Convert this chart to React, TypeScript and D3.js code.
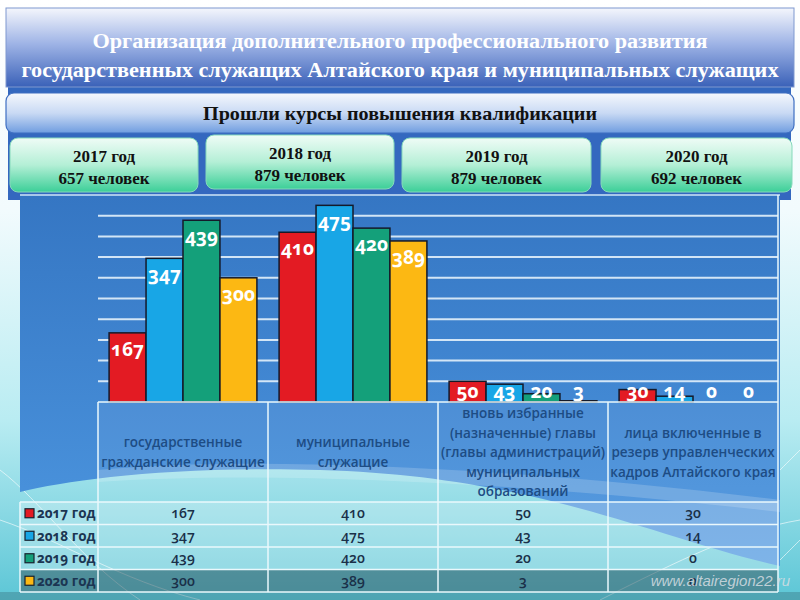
import * as d3 from "d3";

const titleLines = [
  "Организация дополнительного профессионального развития",
  "государственных служащих Алтайского края и муниципальных служащих",
];
const subtitle = "Прошли курсы повышения квалификации";

const years = ["2017 год", "2018 год", "2019 год", "2020 год"];
const yearTotals = [657, 879, 879, 692];

const categories = [
  ["государственные", "гражданские служащие"],
  ["муниципальные", "служащие"],
  ["вновь избранные", "(назначенные) главы", "(главы администраций)", "муниципальных", "образований"],
  ["лица включенные в", "резерв управленческих", "кадров Алтайского края"],
];

const values2017 = [167, 410, 50, 30];
const values2018 = [347, 475, 43, 14];
const values2019 = [439, 420, 20, 0];
const values2020 = [300, 389, 3, 0];
const seriesValues = [values2017, values2018, values2019, values2020];

const gridTicks = [50, 100, 150, 200, 250, 300, 350, 400, 450];
const barColors = ["#e31b23", "#18a6e6", "#14a07a", "#fcb813"];

const W = 800;
const H = 600;
const plotLeft = 98;
const plotRight = 778;
const baseY = 402;
const topY = 195;
const headerBottom = 502;
const rowEdges = [502, 524.5, 547, 569.5, 592];
const legendLeft = 20;

const labelFont = "'Open Sans', 'Noto Sans', sans-serif";
const serif = "'Liberation Serif', 'DejaVu Serif', serif";

export default function App() {
  const x = d3.scaleBand<number>()
    .domain(d3.range(categories.length))
    .range([plotLeft, plotRight])
    .padding(0);

  const xInner = d3.scaleBand<number>()
    .domain(d3.range(years.length))
    .range([0, x.bandwidth()])
    .paddingInner(0)
    .paddingOuter(0.3);

  const y = d3.scaleLinear().domain([0, 500]).range([baseY, topY]);

  const yearBoxes = [
    { x0: 10, x1: 198, dy: 0 },
    { x0: 206, x1: 394, dy: -3 },
    { x0: 402, x1: 591, dy: 0 },
    { x0: 601, x1: 792, dy: 0 },
  ];

  const bars = seriesValues.flatMap((vals, si) =>
    vals.map((v, ci) => ({ si, ci, v }))
  );

  const colEdges = [...x.domain().map((d) => x(d)!), plotRight];

  return (
    <div style={{ position: "absolute", left: 0, top: 0 }}>
      <svg width={W} height={H} viewBox={`0 0 ${W} ${H}`} style={{ display: "block" }}>
        <defs>
          <linearGradient id="bg" x1="0" y1="0" x2="0" y2="1">
            <stop offset="0" stopColor="#ffffff" />
            <stop offset="0.35" stopColor="#f2fbfd" />
            <stop offset="0.7" stopColor="#b9ecf2" />
            <stop offset="1" stopColor="#5cc6d6" />
          </linearGradient>
          <linearGradient id="titleG" x1="0" y1="0" x2="0" y2="1">
            <stop offset="0" stopColor="#f4f6fc" />
            <stop offset="0.45" stopColor="#9fb4e6" />
            <stop offset="1" stopColor="#3a61b8" />
          </linearGradient>
          <linearGradient id="subG" x1="0" y1="0" x2="0" y2="1">
            <stop offset="0" stopColor="#f5f8fd" />
            <stop offset="0.5" stopColor="#c9daf4" />
            <stop offset="1" stopColor="#6f9de0" />
          </linearGradient>
          <linearGradient id="yearG" x1="0" y1="0" x2="0" y2="1">
            <stop offset="0" stopColor="#effcf6" />
            <stop offset="0.5" stopColor="#b4efd6" />
            <stop offset="1" stopColor="#3ccf98" />
          </linearGradient>
          <linearGradient id="panelG" x1="0" y1="0" x2="0" y2="1">
            <stop offset="0" stopColor="#3576c3" />
            <stop offset="1" stopColor="#4d97e0" />
          </linearGradient>
        </defs>

        <rect x={0} y={0} width={W} height={H} fill="url(#bg)" />

        {/* decorative background lines */}
        <g fill="none" stroke="#ffffff" strokeOpacity={0.6} strokeWidth={1}>
          <path d="M0,470 C 40,500 80,560 140,600" />
          <path d="M0,520 C 60,540 120,580 200,600" />
          <path d="M780,560 C 790,550 795,545 800,540" />
          <path d="M780,470 C 790,460 795,455 800,450" />
          <path d="M600,600 C 680,560 740,530 800,520" />
        </g>

        {/* blue band behind the header boxes */}
        <rect x={8} y={84} width={783} height={116} fill="#3468bf" />

        {/* title */}
        <rect x={6} y={8} width={788} height={79} fill="url(#titleG)" stroke="#7f98cf" strokeWidth={1} />
        <g fontFamily={serif} fontWeight="bold" fill="#ffffff" fontSize={20} textAnchor="middle">
          <text x={400} y={48} textLength={615} lengthAdjust="spacingAndGlyphs">{titleLines[0]}</text>
          <text x={400} y={77} textLength={757} lengthAdjust="spacingAndGlyphs">{titleLines[1]}</text>
        </g>

        {/* subtitle */}
        <rect x={6} y={93} width={788} height={40} rx={8} fill="url(#subG)" stroke="#3f6fc2" strokeWidth={1.2} />
        <text x={400} y={120} fontFamily={serif} fontWeight="bold" fontSize={18} textAnchor="middle" fill="#111"
          textLength={394} lengthAdjust="spacingAndGlyphs">{subtitle}</text>

        {/* year boxes */}
        {yearBoxes.map((b, i) => (
          <g key={i}>
            <rect x={b.x0} y={138 + b.dy} width={b.x1 - b.x0} height={54} rx={8} fill="url(#yearG)" stroke="#86d9bb" strokeWidth={1} />
            <text x={(b.x0 + b.x1) / 2} y={162 + b.dy} textAnchor="middle" fontFamily={serif} fontWeight="bold" fontSize={17} fill="#111">
              {years[i]}
            </text>
            <text x={(b.x0 + b.x1) / 2} y={184 + b.dy} textAnchor="middle" fontFamily={serif} fontWeight="bold" fontSize={17} fill="#111">
              {`${yearTotals[i]} человек`}
            </text>
          </g>
        ))}

        {/* chart panel with wave at the bottom */}
        <path
          d={`M${legendLeft},${topY} H780 V566 C 660,540 540,476 320,470 C 170,466 70,480 ${legendLeft},492 Z`}
          fill="url(#panelG)"
        />
        <path d="M98,470 C 260,455 520,468 780,500 L780,512 C 520,482 260,470 98,482 Z" fill="#ffffff" fillOpacity={0.18} />
        <line x1={legendLeft} x2={780} y1={topY} y2={topY} stroke="#cfe6f7" strokeWidth={1.5} />

        {/* gridlines */}
        <g stroke="#e3f1fb" strokeWidth={2} strokeOpacity={0.9}>
          {gridTicks.map((t) => (
            <line key={t} x1={plotLeft} x2={plotRight} y1={y(t)} y2={y(t)} />
          ))}
        </g>

        {/* bars */}
        <g stroke="#141a2a" strokeWidth={1.5}>
          {bars.map((d) => {
            const bx = x(d.ci)! + xInner(d.si)!;
            const top = y(d.v);
            return (
              <rect key={`${d.si}-${d.ci}`} x={bx} y={top} width={xInner.bandwidth()} height={Math.max(0, baseY - top)} fill={barColors[d.si]} />
            );
          })}
        </g>

        {/* bar labels */}
        <g fontFamily={labelFont} fontWeight={700} fontSize={19} fill="#ffffff" textAnchor="middle" style={{ fontVariantNumeric: "oldstyle-nums" }}>
          {bars.map((d) => {
            const bx = x(d.ci)! + xInner(d.si)! + xInner.bandwidth() / 2;
            const ly = Math.min(y(d.v) + 23, 398);
            return (
              <text key={`l${d.si}-${d.ci}`} x={bx} y={ly}>{d.v}</text>
            );
          })}
        </g>

        {/* table fills */}
        <rect x={plotLeft} y={baseY} width={plotRight - plotLeft} height={headerBottom - baseY} fill="#ffffff" fillOpacity={0.06} />
        {[0, 1, 2].map((r) => (
          <rect key={r} x={legendLeft} y={rowEdges[r]} width={plotRight - legendLeft} height={rowEdges[r + 1] - rowEdges[r]} fill="#ffffff" fillOpacity={0.28} />
        ))}
        <rect x={legendLeft} y={rowEdges[3]} width={plotRight - legendLeft} height={rowEdges[4] - rowEdges[3]} fill="#3d6670" fillOpacity={0.6} />
        <rect x={0} y={rowEdges[4]} width={W} height={H - rowEdges[4]} fill="#3f7d8a" fillOpacity={0.45} />

        {/* table grid */}
        <g stroke="#eaf8fc" strokeWidth={1.5} fill="none">
          <line x1={plotLeft} x2={plotRight} y1={baseY} y2={baseY} />
          {rowEdges.map((ry) => (
            <line key={ry} x1={legendLeft} x2={plotRight} y1={ry} y2={ry} />
          ))}
          <line x1={legendLeft} x2={legendLeft} y1={headerBottom} y2={rowEdges[4]} />
          {colEdges.map((cx, i) => (
            <line key={i} x1={cx} x2={cx} y1={i === colEdges.length - 1 ? topY : baseY} y2={rowEdges[4]} />
          ))}
        </g>

        {/* header text */}
        <g fontFamily={labelFont} fontWeight={600} fontSize={13.5} fill="#1d4c84" textAnchor="middle">
          {categories.map((lines, ci) => {
            const cx = x(ci)! + x.bandwidth() / 2;
            return lines.map((ln, li) => (
              <text key={`${ci}-${li}`} x={cx} y={452.5 + (li - (lines.length - 1) / 2) * 19.5} dy="0.35em">{ln}</text>
            ));
          })}
        </g>

        {/* legend column */}
        {years.map((yr, si) => {
          const cy = (rowEdges[si] + rowEdges[si + 1]) / 2;
          return (
            <g key={yr}>
              <rect x={25} y={cy - 4.5} width={9} height={9} fill={barColors[si]} stroke="#17222e" strokeWidth={1.2} />
              <text x={37} y={cy} dy="0.36em" fontFamily={labelFont} fontWeight={700} fontSize={13.5} fill="#1b3552"
                style={{ fontVariantNumeric: "oldstyle-nums" }}>{yr}</text>
            </g>
          );
        })}

        {/* table values */}
        <g fontFamily={labelFont} fontWeight={600} fontSize={14} fill="#1a3049" textAnchor="middle" style={{ fontVariantNumeric: "oldstyle-nums" }}>
          {bars.map((d) => (
            <text key={`t${d.si}-${d.ci}`} x={x(d.ci)! + x.bandwidth() / 2} y={(rowEdges[d.si] + rowEdges[d.si + 1]) / 2} dy="0.36em">
              {d.v}
            </text>
          ))}
        </g>

        <text x={790} y={586} textAnchor="end" fontFamily="'Liberation Sans', Arial, sans-serif" fontStyle="italic" fontSize={15}
          fill="#d6dde2" fillOpacity={0.85}>www.altairegion22.ru</text>
      </svg>
    </div>
  );
}
